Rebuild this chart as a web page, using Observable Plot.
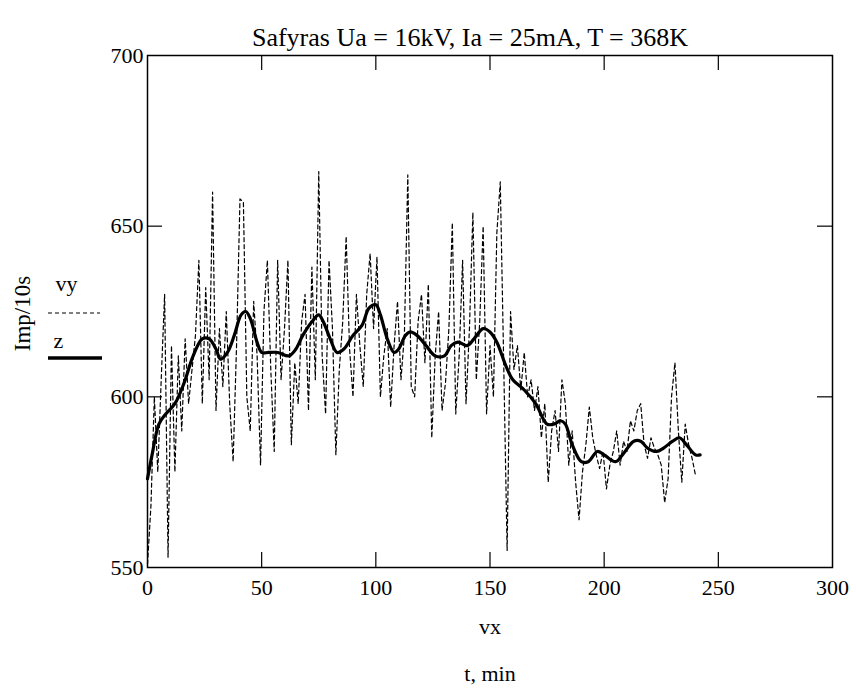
<!DOCTYPE html>
<html><head><meta charset="utf-8">
<script src="https://cdn.jsdelivr.net/npm/d3@7"></script>
<script src="https://cdn.jsdelivr.net/npm/@observablehq/plot@0.6"></script>
<style>
body{margin:0;background:#fff;}
svg{font-family:"Liberation Serif","Times New Roman",serif;}
</style>
</head><body><div id="chart"></div>
<script>
const title = "Safyras Ua = 16kV, Ia = 25mA, T = 368K";
const xLabel1 = "vx";
const xLabel2 = "t, min";
const yLabel = "Imp/10s";
const seriesNames = ["vy", "z"];
const xTicks = [0, 50, 100, 150, 200, 250, 300];
const yTicks = [550, 600, 650, 700];

// dashed series vy, sampled every 1.5 min from t = 0
const vyStep = 1.5;
const vyValues = [
  551,568,600,578,605,630,553,615,578,612,
  590,617,598,608,618,640,598,632,605,660,
  596,620,603,625,598,581,615,658,657,600,
  590,628,612,580,625,640,608,584,640,605,
  620,640,586,610,598,622,630,596,638,605,
  666,612,595,640,620,583,608,622,647,614,
  600,630,615,603,630,642,620,641,600,612,
  620,597,615,628,605,618,665,603,600,622,
  630,610,633,588,612,625,596,604,620,651,
  595,612,640,598,620,654,605,622,650,595,
  615,600,648,663,610,555,625,608,615,602,
  613,600,605,596,603,588,598,575,590,596,
  584,605,598,580,590,575,564,578,586,597,
  588,583,579,584,573,580,584,590,580,587,
  584,593,590,596,598,586,582,588,585,583,
  580,569,576,600,610,590,575,592,586,582,
  577
];

// smoothed series z
const zT = [0,2,5,8,12,16,20,24,27,30,32,35,38,41,43,45,48,50,53,57,62,65,68,72,75,77,80,83,86,90,94,97,100,102,105,108,110,113,115,118,122,126,130,133,136,140,143,147,150,153,157,160,165,170,175,178,181,183,186,190,193,197,200,205,208,213,216,219,223,226,230,233,236,240,242];
const zV = [576,583,592,595,598,604,612,617,617,614,611,613,618,624,625,623,616,613,613,613,612,614,618,622,624,622,617,613,614,618,621,626,627,624,617,613,614,618,619,618,615,612,612,615,616,615,617,620,619,616,609,605,602,598,592,592,593,592,586,581,581,584,583,581,583,587,587,585,584,585,587,588,586,583,583];

const vy = vyValues.map((v, i) => ({t: i * vyStep, v}));
const z = zT.map((t, i) => ({t, v: zV[i]}));

const W = 856, H = 691, mL = 147, mR = 24, mT = 55, mB = 124;
const pW = W - mL - mR, pH = H - mT - mB;
const tick = 15;
const fs = 22;

const plot = Plot.plot({
  width: W, height: H,
  marginLeft: mL, marginRight: mR, marginTop: mT, marginBottom: mB,
  style: {fontFamily: "Liberation Serif, Times New Roman, serif", fontSize: fs + "px", background: "#fff", color: "#000", overflow: "visible"},
  x: {domain: [0, 300], axis: null},
  y: {domain: [550, 700], axis: null},
  marks: [
    Plot.line(vy, {x: "t", y: "v", stroke: "#000", strokeWidth: 1.2, strokeDasharray: "4,3"}),
    Plot.line(z, {x: "t", y: "v", stroke: "#000", strokeWidth: 3.2, curve: "catmull-rom"}),
    Plot.frame({stroke: "#000", strokeWidth: 1.5}),
    Plot.tickX(xTicks.slice(1, -1), {x: d => d, insetTop: pH - tick, stroke: "#000", strokeWidth: 1.2}),
    Plot.tickX(xTicks.slice(1, -1), {x: d => d, insetBottom: pH - tick, stroke: "#000", strokeWidth: 1.2}),
    Plot.tickY(yTicks.slice(1, -1), {y: d => d, insetRight: pW - tick, stroke: "#000", strokeWidth: 1.2}),
    Plot.tickY(yTicks.slice(1, -1), {y: d => d, insetLeft: pW - tick, stroke: "#000", strokeWidth: 1.2}),
    Plot.axisX(xTicks, {anchor: "bottom", tickSize: 0, tickPadding: 12, fontSize: fs, label: null}),
    Plot.axisY(yTicks, {anchor: "left", tickSize: 0, tickPadding: 4, fontSize: fs, label: null}),
    Plot.text([title], {frameAnchor: "top", dy: -28, dx: -20, fontSize: 26, fill: "#000"}),
    Plot.text([xLabel1], {frameAnchor: "bottom", dy: 66, fontSize: fs, fill: "#000"}),
    Plot.text([xLabel2], {frameAnchor: "bottom", dy: 113, fontSize: fs, fill: "#000"}),
    Plot.text([yLabel], {frameAnchor: "left", textAnchor: "middle", dx: -125, dy: 2, rotate: -90, fontSize: 23, fill: "#000"}),
    Plot.text([seriesNames[0]], {frameAnchor: "left", dx: -92, dy: -28, textAnchor: "start", fontSize: fs, fill: "#000"}),
    Plot.text([seriesNames[1]], {frameAnchor: "left", dx: -94, dy: 29, textAnchor: "start", fontSize: fs, fill: "#000"})
  ]
});

// legend swatches
const svg = d3.select(plot);
svg.append("line").attr("x1", 48).attr("x2", 100).attr("y1", 313).attr("y2", 313)
  .attr("stroke", "#000").attr("stroke-width", 1.2).attr("stroke-dasharray", "4,3");
svg.append("line").attr("x1", 48).attr("x2", 102).attr("y1", 358).attr("y2", 358)
  .attr("stroke", "#000").attr("stroke-width", 3.5);

document.getElementById("chart").appendChild(plot);
</script>
</body></html>
